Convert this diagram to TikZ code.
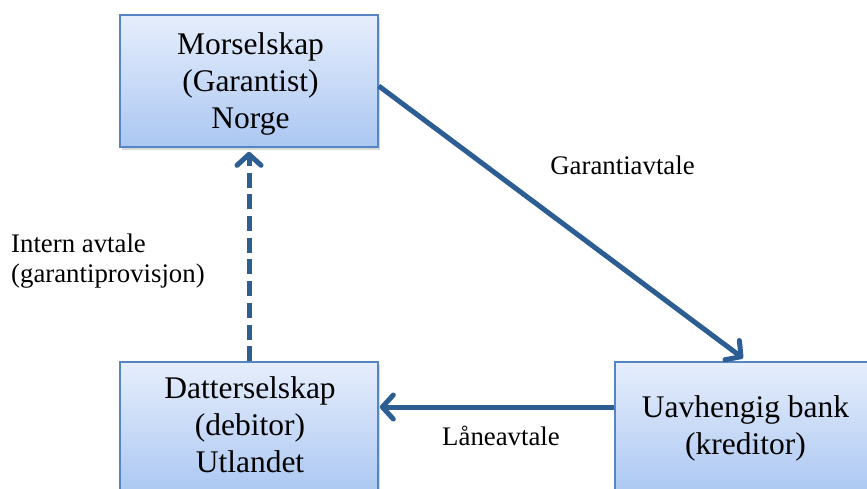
\documentclass[tikz,border=0pt]{standalone}
\usepackage{fontspec}
\setmainfont{Liberation Serif}
\usetikzlibrary{arrows.meta,shadows}
\definecolor{boxtop}{HTML}{E6EEFC}
\definecolor{boxbot}{HTML}{ABC7F2}
\definecolor{boxline}{HTML}{5685C4}
\definecolor{arrowblue}{HTML}{2C5E94}
\tikzset{
  box/.style={draw=boxline, line width=1.6pt, top color=boxtop, bottom color=boxbot,
    rectangle, inner sep=0pt, minimum width=258pt, minimum height=132pt,
    drop shadow={shadow xshift=2pt, shadow yshift=-2.5pt, opacity=0.25, fill=black!60}},
  maintext/.style={inner sep=0pt, align=center, anchor=north,
    font=\fontsize{31.5}{37}\selectfont},
  lbl/.style={inner sep=0pt, font=\fontsize{26.8}{30}\selectfont},
  conn/.style={draw=arrowblue, line width=5pt,
    -{Straight Barb[length=11pt, width=24pt, line cap=round, line join=round]}},
}
\begin{document}
\begin{tikzpicture}[x=1pt, y=-1pt]
\useasboundingbox (0,0) rectangle (867,488);
\clip (0,0) rectangle (867,488);
\node[box] (mor) at (249,81) {};
\node[box] (dat) at (249,428) {};
\node[box, minimum width=260pt] (bank) at (745,428) {};
\node[maintext] (mortxt) at (250.5,32.5) {Morselskap\\(Garantist)\\Norge};
\node[maintext] (dattxt) at (250,376.5) {Datterselskap\\(debitor)\\Utlandet};
\node[maintext] (banktxt) at (745.5,395.5) {Uavhengig bank\\(kreditor)};
\draw[conn] ([yshift=-5pt]mor.east) -- ([xshift=-2pt,yshift=3pt]bank.north);
\draw[conn, dash pattern=on 15pt off 6.7pt] (dat.north) -- ([yshift=-4pt]mor.south);
\draw[conn] ([yshift=21pt]bank.west) -- ([xshift=1pt,yshift=21pt]dat.east);
\node[lbl, anchor=base] (garanti) at (622.5,174) {Garantiavtale};
\node[lbl, anchor=north west, align=left] (intern) at (11,233.7) {Intern avtale\\(garantiprovisjon)};
\node[lbl, anchor=base] (laane) at (501,445) {Låneavtale};
\end{tikzpicture}
\end{document}
